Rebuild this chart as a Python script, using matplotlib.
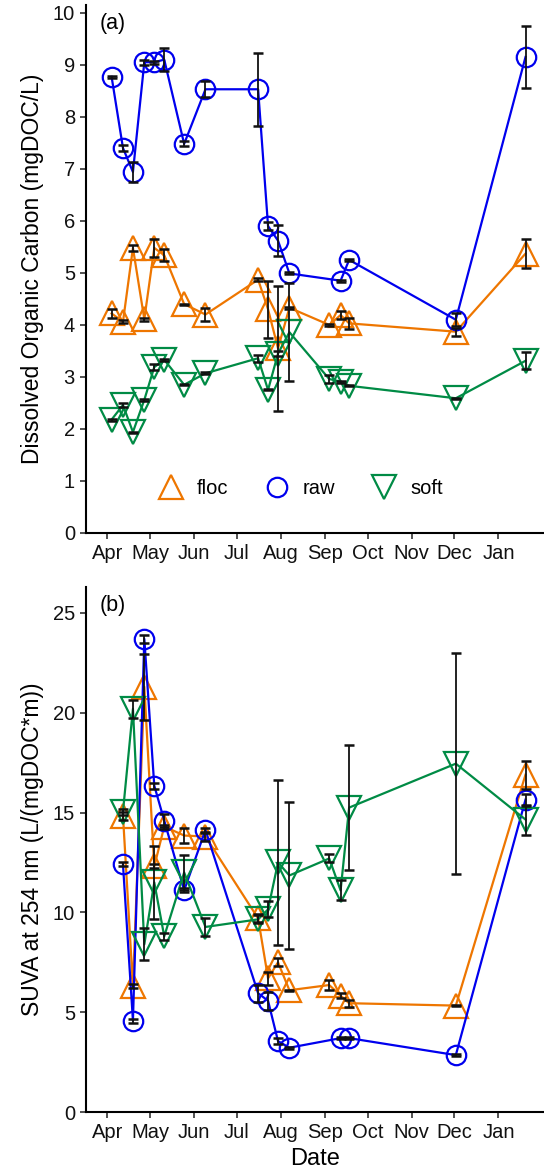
import numpy as np
import matplotlib
matplotlib.use("Agg")
import matplotlib.pyplot as plt
import matplotlib.dates as mdates
from matplotlib.lines import Line2D
from datetime import date, timedelta

plt.rcParams['font.family'] = ['Liberation Sans', 'DejaVu Sans']

# sampling dates
dates = [date(2015, 4, 4), date(2015, 4, 12), date(2015, 4, 19), date(2015, 4, 27),
         date(2015, 5, 4), date(2015, 5, 11), date(2015, 5, 25), date(2015, 6, 9),
         date(2015, 7, 16), date(2015, 7, 23), date(2015, 7, 30), date(2015, 8, 7),
         date(2015, 9, 4), date(2015, 9, 12), date(2015, 9, 18), date(2015, 12, 2),
         date(2016, 1, 20)]
month_ticks = [date(2015, m, 1) for m in range(4, 13)] + [date(2016, 1, 1)]
nan = np.nan

# (a) DOC, mg/L
doc_floc = [4.22, 4.06, 5.48, 4.11, 5.48, 5.34, 4.40, 4.20, 4.87, 4.30, 3.55, 4.33,
            4.00, 4.19, 4.03, 3.87, 5.37]
doc_floc_sd = [0.09, 0.03, 0.05, 0.03, 0.18, 0.12, 0.01, 0.12, 0.03, 0.55, 1.20, 0.02,
               0.02, 0.07, 0.10, 0.08, 0.28]
doc_raw = [8.77, 7.40, 6.94, 9.05, 9.05, 9.10, 7.48, 8.53, 8.53, 5.90, 5.62, 4.99,
           nan, 4.85, 5.25, 4.10, 9.15]
doc_raw_sd = [0.02, 0.06, 0.20, 0.05, 0.03, 0.22, 0.05, 0.15, 0.70, 0.08, 0.30, 0.02,
              nan, 0.02, 0.02, 0.12, 0.60]
doc_soft = [2.18, 2.46, 1.94, 2.56, 3.19, 3.33, 2.85, 3.07, 3.36, 2.75, 3.45, 3.86,
            2.96, 2.91, 2.83, 2.59, 3.31]
doc_soft_sd = [0.02, 0.04, 0.01, 0.02, 0.06, 0.02, 0.01, 0.02, 0.07, 0.01, 0.05, 0.94,
               0.08, 0.02, 0.01, 0.01, 0.16]

# (b) SUVA at 254 nm
suva_floc = [nan, 14.85, 6.30, 21.30, 12.30, 14.30, 13.85, 13.80, 9.70, 6.70, 7.50, 6.10,
             6.36, 5.83, 5.45, 5.33, 16.90]
suva_floc_sd = [nan, 0.20, 0.10, 1.65, 0.10, 0.10, 0.37, 0.20, 0.20, 0.33, 0.20, 0.03,
                0.25, 0.12, 0.18, 0.03, 0.70]
suva_raw = [nan, 12.40, 4.57, 23.70, 16.35, 14.60, 11.10, 14.13, 5.95, 5.57, 3.55, 3.22,
            nan, 3.70, 3.70, 2.85, 15.65]
suva_raw_sd = [nan, 0.10, 0.10, 0.20, 0.15, 0.33, 0.10, 0.10, 0.42, 0.46, 0.15, 0.05,
               nan, 0.05, 0.05, 0.05, 0.30]
suva_soft = [nan, 15.05, 20.20, 8.40, 11.50, 8.80, 12.00, 9.27, 9.65, 10.15, 12.50, 11.85,
             12.70, 11.10, 15.25, 17.45, 14.65]
suva_soft_sd = [nan, 0.15, 0.45, 0.80, 1.84, 0.17, 0.88, 0.45, 0.20, 0.40, 4.13, 3.67,
                0.20, 0.50, 3.15, 5.55, 0.75]

colors = {'floc': '#EE7600', 'raw': '#0000EE', 'soft': '#008B45'}
markers = {'floc': '^', 'raw': 'o', 'soft': 'v'}
msize = {'floc': 17, 'raw': 14, 'soft': 17}

x = np.array([mdates.date2num(d) for d in dates])


def draw(ax, series, ymax, yticks, ylabel, tag):
    for name, (vals, sd) in series.items():
        v = np.array(vals, dtype=float)
        ok = ~np.isnan(v)
        ax.plot(x[ok], v[ok], color=colors[name], lw=1.6, marker=markers[name],
                ms=msize[name], mfc='none', mec=colors[name], mew=1.6, zorder=2)
    for name, (vals, sd) in series.items():
        v = np.array(vals, dtype=float)
        s = np.array(sd, dtype=float)
        ok = ~np.isnan(v)
        ax.errorbar(x[ok], v[ok], yerr=s[ok], fmt='none', ecolor='#111111',
                    elinewidth=1.3, capsize=3.6, capthick=1.8, zorder=3)
    ax.set_xlim(mdates.date2num(date(2015, 4, 1) - timedelta(days=15)),
                mdates.date2num(date(2015, 4, 1) + timedelta(days=307)))
    ax.set_ylim(0, ymax)
    ax.set_yticks(yticks)
    ax.set_xticks([mdates.date2num(d) for d in month_ticks])
    ax.set_xticklabels([d.strftime('%b') for d in month_ticks])
    for sp in ['top', 'right']:
        ax.spines[sp].set_visible(False)
    for sp in ['left', 'bottom']:
        ax.spines[sp].set_linewidth(1.5)
    ax.tick_params(direction='out', length=4.5, width=1.2, color='#333333',
                   labelsize=14.5, labelcolor='#111111', pad=3.5)
    ax.set_ylabel(ylabel, fontsize=16.5, labelpad=6)
    ax.text(0.03, 0.985, tag, transform=ax.transAxes, fontsize=15.5, va='top', ha='left')


fig = plt.figure(figsize=(5.44, 11.75), dpi=100)
ax1 = fig.add_axes([86 / 544, 1 - 533 / 1175, 1 - 86 / 544, (533 - 5) / 1175])
ax2 = fig.add_axes([86 / 544, 1 - 1112 / 1175, 1 - 86 / 544, (1112 - 587) / 1175])

draw(ax1, {'floc': (doc_floc, doc_floc_sd), 'raw': (doc_raw, doc_raw_sd),
           'soft': (doc_soft, doc_soft_sd)},
     10.15, range(0, 11), 'Dissolved Organic Carbon (mgDOC/L)', '(a)')
draw(ax2, {'floc': (suva_floc, suva_floc_sd), 'raw': (suva_raw, suva_raw_sd),
           'soft': (suva_soft, suva_soft_sd)},
     26.3, range(0, 26, 5), 'SUVA at 254 nm (L/(mgDOC*m))', '(b)')
ax2.set_xlabel('Date', fontsize=17, labelpad=4)

handles = [Line2D([], [], ls='none', marker=markers[k], ms=msize[k], mfc='none',
                  mec=colors[k], mew=1.6) for k in ['floc', 'raw', 'soft']]
ax1.legend(handles, ['floc', 'raw', 'soft'], loc='center', bbox_to_anchor=(0.46, 0.085),
           ncol=3, frameon=False, fontsize=14.5, handletextpad=0.3, columnspacing=1.4)

fig.savefig('out.png', dpi=100)
